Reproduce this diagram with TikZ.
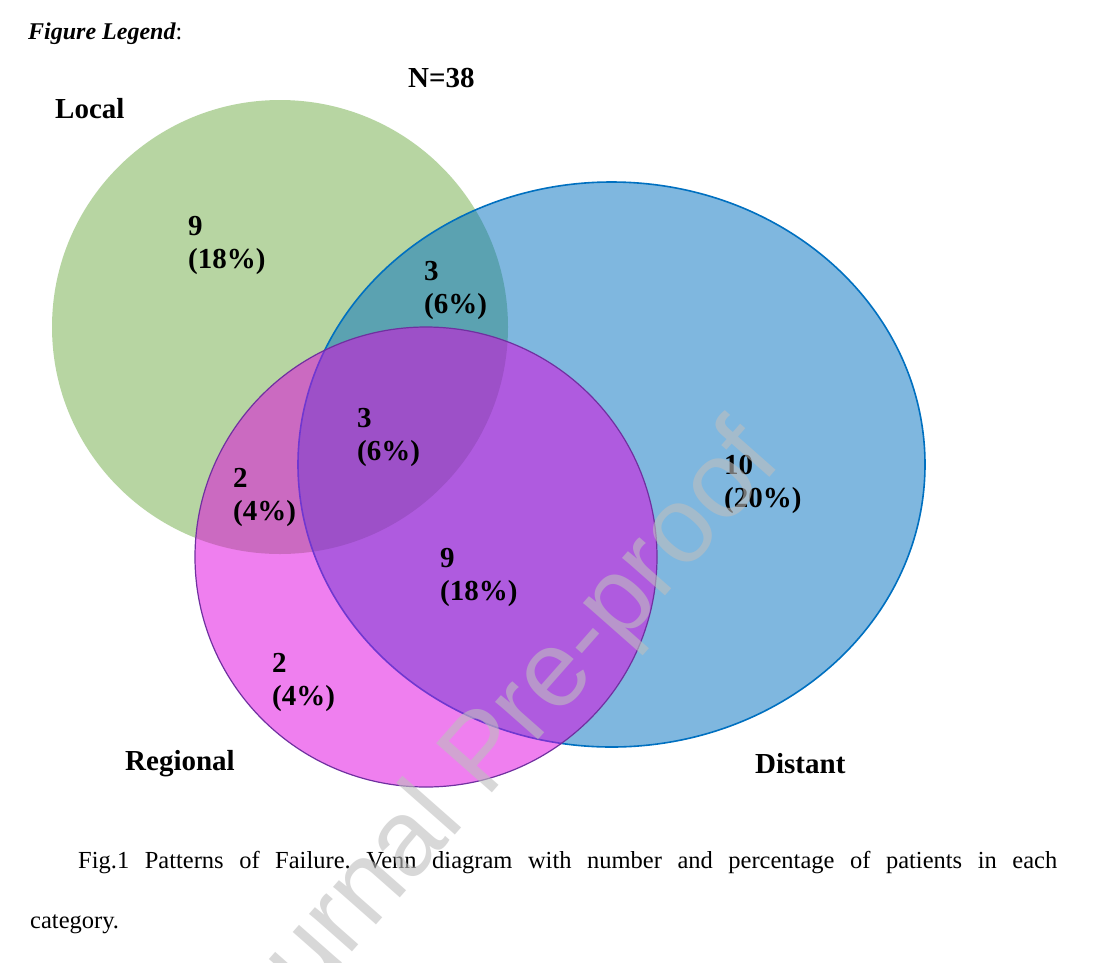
\documentclass[tikz,border=0pt]{standalone}
\usepackage{fontspec}
\setmainfont{Liberation Serif}
\newfontfamily\wmfont{Liberation Sans}
\usepackage{tikz}
\usetikzlibrary{positioning}

\definecolor{localgreen}{RGB}{112,173,71}
\definecolor{distblue}{RGB}{0,112,192}
\definecolor{regviolet}{RGB}{224,0,224}
\definecolor{regedge}{RGB}{112,48,160}
\definecolor{wmgray}{RGB}{190,190,190}

\begin{document}
\frenchspacing
\begin{tikzpicture}[
		x=1pt, y=-1pt,
		set/.style={fill opacity=0.5, draw opacity=1},
		tally/.style={font=\bfseries\fontsize{29}{33}\selectfont, align=left, anchor=base west, inner sep=0pt},
		setname/.style={font=\bfseries\fontsize{29}{33}\selectfont, anchor=base west, inner sep=0pt},
		captext/.style={font=\fontsize{24.5}{28}\selectfont, anchor=base west, inner sep=0pt}
	]
	\fill[white] (0,0) rectangle (1113,962);
	\useasboundingbox (0,0) rectangle (1113,962);
	\clip (0,0) rectangle (1113,962);

	% Sets
	\fill[set, localgreen] (280,327) ellipse [x radius=228pt, y radius=227pt];
	\filldraw[set, fill=distblue, draw=distblue, line width=1.6pt] (611.5,464.5) ellipse [x radius=313.5pt, y radius=282.5pt];
	\filldraw[set, fill=regviolet, draw=regedge, line width=1.2pt] (426,557) ellipse [x radius=231pt, y radius=230pt];

	% Headings
	\node[anchor=base west, inner sep=0pt, font=\fontsize{24}{28}\selectfont] (legend) at (28,39) {{\bfseries\itshape Figure Legend}:};
	\node[setname] (total) at (408,87) {N=38};
	\node[setname] (local) at (55,118) {Local};
	\node[setname] (regional) at (125,770) {Regional};
	\node[setname] (distant) at (755,773) {Distant};

	% Counts (base = last line)
	\node[tally] (l) at (188,268) {9\\(18\%)};
	\node[tally] (ld) at (424,313) {3\\(6\%)};
	\node[tally] (ldr) at (357,460) {3\\(6\%)};
	\node[tally] (lr) at (233,520) {2\\(4\%)};
	\node[tally] (dr) at (440,600) {9\\(18\%)};
	\node[tally] (d) at (724,507) {10\\(20\%)};
	\node[tally] (r) at (272,705) {2\\(4\%)};

	% Caption
	\node[captext] (capline) at (78,868) {\makebox[979pt][s]{Fig.1 Patterns of Failure. Venn diagram with number and percentage of patients in each}};
	\node[captext] (capend) at (30,928) {category.};

	% Watermark
	\node[rotate=48.6, anchor=base west, inner sep=0pt, text=wmgray, text opacity=0.6, font=\wmfont\fontsize{108}{112}\selectfont] (mark) at (232,1088) {Journal Pre-proof};

\end{tikzpicture}
\end{document}
